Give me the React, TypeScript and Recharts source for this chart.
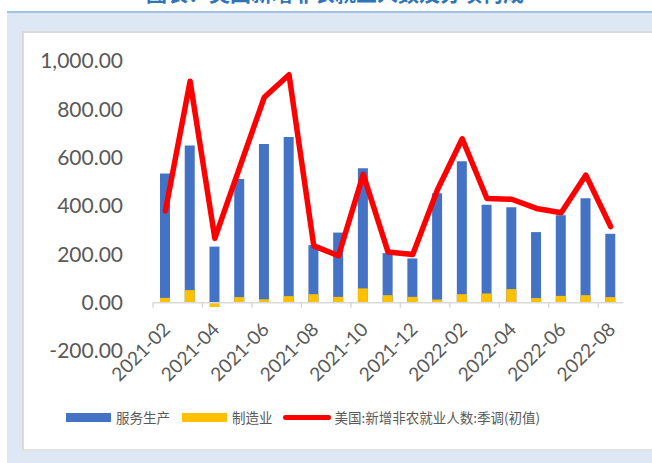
import { Bar, ComposedChart, Legend, Line, ReferenceLine, XAxis, YAxis } from 'recharts'

const MONTHS = [
  '2021-02', '2021-03', '2021-04', '2021-05', '2021-06', '2021-07', '2021-08', '2021-09',
  '2021-10', '2021-11', '2021-12', '2022-01', '2022-02', '2022-03', '2022-04', '2022-05',
  '2022-06', '2022-07', '2022-08',
]
// 服务生产
const SERVICES = [535, 650, 232, 512, 657, 686, 238, 290, 556, 205, 183, 453, 585, 405, 395, 292, 362, 432, 285]
// 制造业
const MANUFACTURING = [20, 52, -18, 23, 14, 27, 35, 24, 59, 31, 24, 13, 35, 38, 56, 19, 28, 31, 23]
// 美国:新增非农就业人数:季调(初值)
const PAYROLLS = [379, 916, 266, 559, 850, 943, 235, 194, 531, 210, 199, 467, 678, 431, 428, 390, 372, 528, 315]
const Y_TICKS = [-200, 0, 200, 400, 600, 800, 1000]

const BLUE = '#4472C4'
const YELLOW = '#FFC000'
const RED = '#FF0000'
const TEXT = '#595959'
const AXIS = '#D9D9D9'
const NUM_FONT = 'Lato, "Liberation Sans", sans-serif'
const CJK_FONT = '"Noto Sans CJK SC", sans-serif'

const W = 652
const H = 463
const TOP = 61
const RIGHT = 29
const X_AXIS_H = 112
const Y_AXIS_W = 153
const PLOT_W = W - Y_AXIS_W - RIGHT
const PLOT_H = H - TOP - X_AXIS_H
const BAND = PLOT_W / MONTHS.length
// distance from plot bottom (-200) up to the zero line
const ZERO_UP = (PLOT_H * 200) / 1200

const data = MONTHS.map((month, i) => ({
  month,
  services: SERVICES[i],
  manufacturing: MANUFACTURING[i],
  payrolls: PAYROLLS[i],
}))

const fmt = (v: number) =>
  v.toLocaleString('en-US', { minimumFractionDigits: 2, maximumFractionDigits: 2 })

// Excel-style category labels: hang under the zero line, rotated 45°.
function MonthTick({ x, y, payload }: any) {
  const zeroY = y - ZERO_UP
  const tx = x + 6
  const ty = zeroY + 28
  return (
    <g>
      <line x1={x - BAND / 2} x2={x - BAND / 2} y1={zeroY} y2={zeroY + 5} stroke={AXIS} strokeWidth={1.5} />
      <text
        x={tx}
        y={ty}
        transform={`rotate(-45 ${tx} ${ty})`}
        textAnchor="end"
        fill={TEXT}
        fontSize={19}
        fontFamily={NUM_FONT}
      >
        {payload.value}
      </text>
    </g>
  )
}

function LegendContent() {
  const swatch = (color: string) => (
    <span style={{ display: 'inline-block', width: 45, height: 9, background: color, marginRight: 5 }} />
  )
  return (
    <div
      style={{
        display: 'flex',
        alignItems: 'center',
        height: 20,
        paddingLeft: 66,
        fontFamily: CJK_FONT,
        fontSize: 13.5,
        lineHeight: '20px',
        color: TEXT,
        whiteSpace: 'nowrap',
      }}
    >
      {swatch(BLUE)}
      <span style={{ marginRight: 12 }}>服务生产</span>
      {swatch(YELLOW)}
      <span style={{ marginRight: 10 }}>制造业</span>
      <span
        style={{ display: 'inline-block', width: 48, height: 5, borderRadius: 3, background: RED, marginRight: 4 }}
      />
      <span>美国:新增非农就业人数:季调(初值)</span>
    </div>
  )
}

export default function App() {
  return (
    <div style={{ position: 'absolute', left: 0, top: 0, width: W, height: H, background: '#fff', overflow: 'hidden' }}>
      {/* title cut off by the screenshot, only its bottom edge shows */}
      <div style={{ position: 'absolute', left: 0, top: 0, width: W, height: 11, overflow: 'hidden' }}>
        <div
          style={{
            position: 'absolute',
            left: 146,
            top: -23,
            fontSize: 21,
            fontWeight: 700,
            color: '#2E75B6',
            fontFamily: CJK_FONT,
            whiteSpace: 'nowrap',
          }}
        >
          图表：美国新增非农就业人数及分项构成
        </div>
      </div>
      <div
        style={{
          position: 'absolute',
          left: 7,
          top: 11,
          right: 0,
          bottom: 0,
          background: '#DDE8F4',
          borderTop: '2px solid #9DC3E6',
        }}
      />
      <div
        style={{
          position: 'absolute',
          left: 22,
          top: 31,
          width: 640,
          height: 416,
          background: '#fff',
          borderLeft: '2px solid #DADADA',
          borderTop: '2px solid #DADADA',
          borderBottom: '2px solid #E2E2E2',
        }}
      />
      <div style={{ position: 'absolute', left: 0, top: 0 }}>
        <ComposedChart
          width={W}
          height={H}
          data={data}
          margin={{ top: TOP, right: RIGHT, bottom: 0, left: 0 }}
          barSize={10}
          barGap={-10}
        >
          <XAxis
            dataKey="month"
            interval={1}
            height={X_AXIS_H}
            axisLine={false}
            tickLine={false}
            tickSize={0}
            tickMargin={0}
            tick={<MonthTick />}
          />
          <YAxis
            width={Y_AXIS_W}
            domain={[-200, 1000]}
            ticks={Y_TICKS}
            tickFormatter={fmt}
            axisLine={false}
            tickLine={false}
            tickSize={0}
            tickMargin={30}
            tick={{ fill: TEXT, fontSize: 21, fontFamily: NUM_FONT }}
          />
          <ReferenceLine y={0} stroke={AXIS} strokeWidth={1.5} />
          <Bar dataKey="services" name="服务生产" fill={BLUE} isAnimationActive={false} />
          <Bar dataKey="manufacturing" name="制造业" fill={YELLOW} isAnimationActive={false} />
          <Line
            dataKey="payrolls"
            name="美国:新增非农就业人数:季调(初值)"
            type="linear"
            stroke={RED}
            strokeWidth={5.5}
            strokeLinejoin="round"
            strokeLinecap="round"
            dot={false}
            activeDot={false}
            isAnimationActive={false}
          />
          <Legend
            layout="vertical"
            verticalAlign="middle"
            align="center"
            content={<LegendContent />}
            wrapperStyle={{ left: 0, top: 407, width: W, height: 20 }}
          />
        </ComposedChart>
      </div>
    </div>
  )
}
